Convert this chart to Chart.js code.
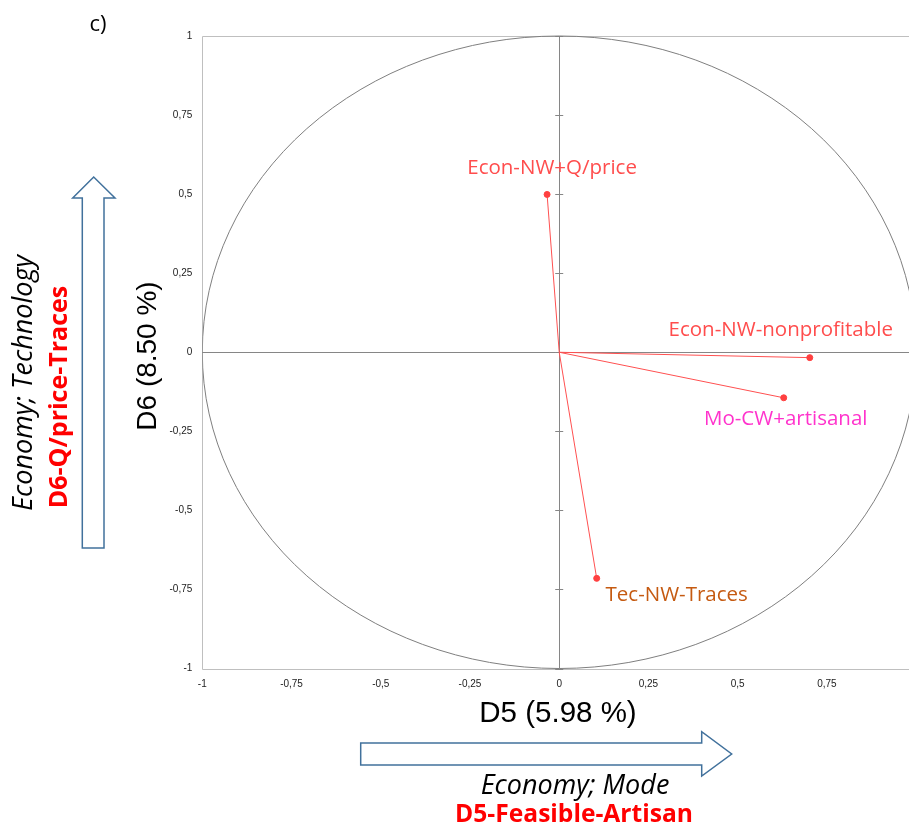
<!DOCTYPE html>
<html>
<head>
<meta charset="utf-8">
<script src="https://cdn.jsdelivr.net/npm/chart.js@4.4.1/dist/chart.umd.min.js"></script>
<style>
  html, body { margin: 0; padding: 0; background: #ffffff; overflow: hidden; }
  #wrap { width: 909px; height: 832px; }
</style>
</head>
<body>
<div id="wrap"><canvas id="chart" width="909" height="832"></canvas></div>
<script>
// Variables projected on the D5 / D6 factor plane
const variables = ['Econ-NW+Q/price', 'Econ-NW-nonprofitable', 'Mo-CW+artisanal', 'Tec-NW-Traces'];
const d5 = [-0.034, 0.702, 0.629, 0.105];
const d6 = [0.499, -0.017, -0.144, -0.715];

// Axis ticks
const xTicks = [-1, -0.75, -0.5, -0.25, 0, 0.25, 0.5, 0.75];
const yTicks = [-1, -0.75, -0.5, -0.25, 0, 0.25, 0.5, 0.75, 1];

// Axis titles and annotations
const xTitle = 'D5 (5.98 %)';
const yTitle = 'D6 (8.50 %)';
const xTheme = 'Economy; Mode';
const xDim = 'D5-Feasible-Artisan';
const yTheme = 'Economy; Technology';
const yDim = 'D6-Q/price-Traces';
const panelTag = 'c)';

// Label styling per variable
const labelColors = ['#ff4d4d', '#ff4d4d', '#ff33cc', '#c55a11'];
const labelOffsets = [[5, -26], [-29, -27], [2, 21], [80, 17]];

const fmt = v => String(v).replace('.', ',');

const datasets = variables.map((name, i) => ({
  label: name,
  data: [{ x: 0, y: 0 }, { x: d5[i], y: d6[i] }],
  showLine: true,
  borderColor: '#ff5050',
  borderWidth: 1,
  backgroundColor: '#ff4040',
  pointBackgroundColor: '#ff4040',
  pointBorderColor: '#ff4040',
  pointRadius: [0, 3],
  pointHoverRadius: [0, 3],
  fill: false
}));

function arrowPath(ctx, pts) {
  ctx.beginPath();
  ctx.moveTo(pts[0][0], pts[0][1]);
  for (let k = 1; k < pts.length; k++) ctx.lineTo(pts[k][0], pts[k][1]);
  ctx.closePath();
  ctx.fillStyle = '#ffffff';
  ctx.fill();
  ctx.strokeStyle = '#41719c';
  ctx.lineWidth = 1.5;
  ctx.stroke();
}

const decor = {
  id: 'decor',
  beforeDatasetsDraw(chart) {
    const { ctx, chartArea: a, scales: { x, y } } = chart;
    const x0 = x.getPixelForValue(0), y0 = y.getPixelForValue(0);
    ctx.save();
    // frame
    ctx.strokeStyle = '#bfbfbf';
    ctx.lineWidth = 1;
    ctx.beginPath();
    ctx.moveTo(a.right + 1, Math.round(a.top) + 0.5);
    ctx.lineTo(Math.round(a.left) + 0.5, Math.round(a.top) + 0.5);
    ctx.lineTo(Math.round(a.left) + 0.5, Math.round(a.bottom) + 0.5);
    ctx.lineTo(a.right + 1, Math.round(a.bottom) + 0.5);
    ctx.stroke();
    // axes through the origin
    ctx.strokeStyle = '#868686';
    ctx.beginPath();
    ctx.moveTo(Math.round(x0) + 0.5, a.top);
    ctx.lineTo(Math.round(x0) + 0.5, a.bottom);
    ctx.moveTo(a.left, Math.round(y0) + 0.5);
    ctx.lineTo(a.right, Math.round(y0) + 0.5);
    // small tick marks on the vertical one
    yTicks.forEach(v => {
      const py = Math.round(y.getPixelForValue(v)) + 0.5;
      ctx.moveTo(x0 - 4, py); ctx.lineTo(x0 + 4, py);
    });
    ctx.stroke();
    // correlation circle
    ctx.save();
    ctx.beginPath();
    ctx.rect(a.left, a.top - 1, a.right - a.left + 2, a.bottom - a.top + 2);
    ctx.clip();
    ctx.strokeStyle = '#7f7f7f';
    ctx.lineWidth = 1;
    ctx.beginPath();
    ctx.ellipse(x0, y0,
      Math.abs(x.getPixelForValue(1) - x0),
      Math.abs(y.getPixelForValue(1) - y0),
      0, 0, Math.PI * 2);
    ctx.stroke();
    ctx.restore();
    ctx.restore();
  },
  afterDraw(chart) {
    const { ctx, scales: { x, y } } = chart;
    ctx.save();
    ctx.textAlign = 'center';
    ctx.textBaseline = 'middle';
    // variable labels
    ctx.font = '20.5px "Open Sans"';
    variables.forEach((name, i) => {
      ctx.fillStyle = labelColors[i];
      ctx.fillText(name,
        x.getPixelForValue(d5[i]) + labelOffsets[i][0],
        y.getPixelForValue(d6[i]) + labelOffsets[i][1]);
    });
    // panel tag
    ctx.fillStyle = '#000000';
    ctx.font = '22px "Open Sans"';
    ctx.fillText(panelTag, 98, 25);
    // axis titles
    ctx.font = '29.5px "Liberation Sans"';
    ctx.fillText(xTitle, 558, 714);
    ctx.save();
    ctx.translate(148, 356);
    ctx.rotate(-Math.PI / 2);
    ctx.font = '28px "Liberation Sans"';
    ctx.fillText(yTitle, 0, 0);
    ctx.restore();
    // direction arrows
    arrowPath(ctx, [[360.7, 743], [701.7, 743], [701.7, 731.7], [731.7, 754],
                    [701.7, 776], [701.7, 765], [360.7, 765]]);
    arrowPath(ctx, [[82.3, 548], [82.3, 198], [72.7, 198], [93.7, 177],
                    [115, 198], [104, 198], [104, 548]]);
    // theme annotations
    ctx.fillStyle = '#000000';
    ctx.font = 'italic 27px "Open Sans"';
    ctx.fillText(xTheme, 575, 786);
    ctx.fillStyle = '#ff0000';
    ctx.font = 'bold 24.6px "Open Sans"';
    ctx.fillText(xDim, 574, 815);
    ctx.save();
    ctx.translate(24, 383);
    ctx.rotate(-Math.PI / 2);
    ctx.fillStyle = '#000000';
    ctx.font = 'italic 27px "Open Sans"';
    ctx.fillText(yTheme, 0, 0);
    ctx.restore();
    ctx.save();
    ctx.translate(60, 397);
    ctx.rotate(-Math.PI / 2);
    ctx.fillStyle = '#ff0000';
    ctx.font = 'bold 25px "Open Sans"';
    ctx.fillText(yDim, 0, 0);
    ctx.restore();
    ctx.restore();
  }
};

new Chart(document.getElementById('chart'), {
  type: 'scatter',
  data: { datasets },
  options: {
    responsive: false,
    animation: false,
    events: [],
    layout: { autoPadding: false, padding: { top: 36, left: 0, right: 0, bottom: 0 } },
    plugins: { legend: { display: false }, tooltip: { enabled: false } },
    scales: {
      x: {
        type: 'linear',
        min: -1,
        max: 0.98,
        grid: { display: false, drawTicks: false },
        border: { display: false },
        afterBuildTicks: s => { s.ticks = xTicks.map(v => ({ value: v })); },
        afterFit: s => { s.height = 163.5; s.paddingLeft = 0; s.paddingRight = 0; },
        ticks: {
          padding: 10,
          autoSkip: false,
          maxRotation: 0,
          color: '#222222',
          font: { family: 'Liberation Sans', size: 10 },
          callback: v => fmt(v)
        }
      },
      y: {
        type: 'linear',
        min: -1,
        max: 1,
        grid: { display: false, drawTicks: false },
        border: { display: false },
        afterBuildTicks: s => { s.ticks = yTicks.map(v => ({ value: v })); },
        afterFit: s => { s.width = 202.3; s.paddingTop = 0; s.paddingBottom = 0; },
        ticks: {
          padding: 10,
          autoSkip: false,
          color: '#222222',
          font: { family: 'Liberation Sans', size: 10 },
          callback: v => fmt(v)
        }
      }
    }
  },
  plugins: [decor]
});
</script>
</body>
</html>
